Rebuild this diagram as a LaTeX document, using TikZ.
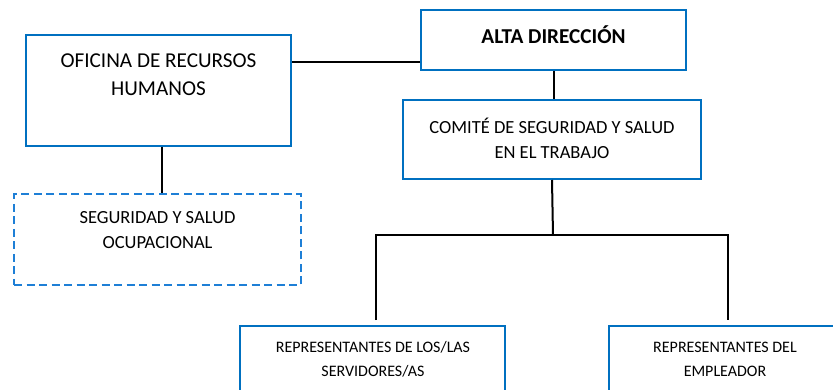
\documentclass[tikz,border=0pt]{standalone}
\usepackage{fontspec}
\setmainfont{Carlito}
\usepackage{tikz}
\usetikzlibrary{positioning,calc}
\definecolor{boxblue}{RGB}{0,112,192}
\definecolor{dashblue}{RGB}{30,127,214}
\tikzset{
        unit/.style={
                draw=boxblue,
                line width=2pt,
                inner sep=0pt
        },
        staff/.style={
                draw=dashblue,
                line width=2pt,
                dash pattern=on 8pt off 4.5pt,
                inner sep=0pt
        },
        bigtext/.style={
                align=center,
                font=\fontsize{21.2}{28}\selectfont
        },
        midtext/.style={
                align=center,
                font=\fontsize{18.5}{25}\selectfont
        },
        smalltext/.style={
                align=center,
                font=\fontsize{16}{24}\selectfont
        },
        link/.style={
                draw=black,
                line width=2pt
        }
}

\begin{document}
\begin{tikzpicture}[x=1pt,y=-1pt]
                        \useasboundingbox (0,0) rectangle (833,390);

                        % boxes
                        \node[unit, minimum width=265, minimum height=111] (ofi) at (158.5,90.5) {};
                        \node[unit, minimum width=265, minimum height=60] (alta) at (553.5,40) {};
                        \node[unit, minimum width=298, minimum height=79] (comite) at (552,139.5) {};
                        \node[staff, minimum width=287, minimum height=91] (seg) at (157.5,239.5) {};
                        \node[unit, minimum width=265, minimum height=80] (rep1) at (372.5,366) {};
                        \node[unit, minimum width=232, minimum height=80] (rep2) at (725,366) {};

                        % texts
                        \node[bigtext] (ofi-t) at (158.5,75) {OFICINA DE RECURSOS\\HUMANOS};
                        \node[bigtext, font=\fontsize{21.2}{28}\selectfont\bfseries] (alta-t) at (553.5,35) {ALTA DIRECCIÓN};
                        \node[midtext] (comite-t) at (552,138.5) {COMITÉ DE SEGURIDAD Y SALUD\\EN EL TRABAJO};
                        \node[midtext] (seg-t) at (157.5,230.5) {SEGURIDAD Y SALUD\\OCUPACIONAL};
                        \node[smalltext] (rep1-t) at (373,359) {REPRESENTANTES DE LOS/LAS\\SERVIDORES/AS};
                        \node[smalltext] (rep2-t) at (725,359) {REPRESENTANTES DEL\\EMPLEADOR};

                        % connectors
                        \coordinate (split) at (553,235);
                        \draw[link] ([yshift=9pt]alta.south west) -- ([yshift=9pt]alta.south west -| ofi.east);
                        \draw[link] (alta.south) -- (alta.south |- comite.north);
                        \draw[link] ([xshift=3.5pt]ofi.south) -- ([xshift=3.5pt]ofi.south |- seg.north);
                        \draw[link] (comite.south |- comite.south) -- (split);
                        \draw[link] ([xshift=3.5pt,yshift=5pt]rep1.north) |- (split) -| ([xshift=3pt,yshift=5pt]rep2.north);

                    \end{tikzpicture}
\end{document}
